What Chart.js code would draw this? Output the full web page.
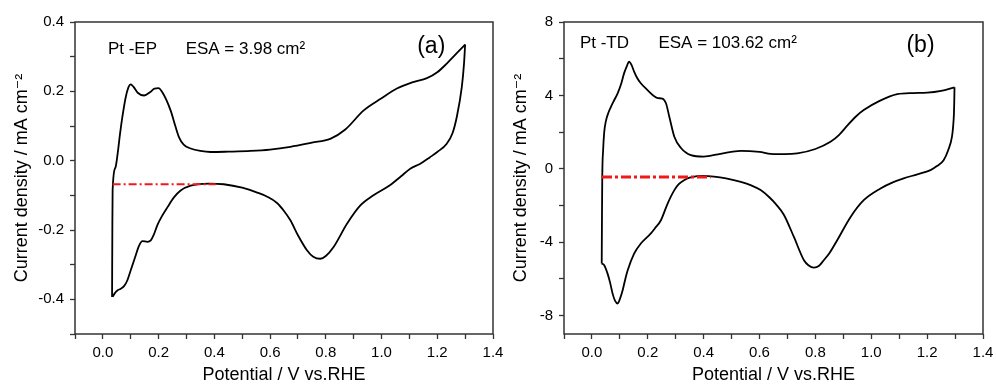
<!DOCTYPE html>
<html><head><meta charset="utf-8">
<script src="https://cdn.jsdelivr.net/npm/chart.js@4.4.0/dist/chart.umd.min.js"></script>
<style>
html,body{margin:0;padding:0;background:#fff;width:996px;height:387px;overflow:hidden;}
#wa{position:absolute;left:0;top:0;width:520px;height:387px;}
#wb{position:absolute;left:498px;top:0;width:498px;height:387px;}
canvas{display:block;}
</style></head><body>
<div id="wa"><canvas id="ca" width="520" height="387"></canvas></div>
<div id="wb"><canvas id="cb" width="498" height="387"></canvas></div>
<script>
// ---------- Panel (a): Pt-EP ----------
const aFwdV = [0.033,0.034,0.035,0.045,0.053,0.062,0.070,0.082,0.092,0.100,0.110,0.125,0.148,0.170,0.185,0.199,0.215,0.243,0.260,0.273,0.290,0.315,0.350,0.387,0.450,0.530,0.600,0.673,0.750,0.816,0.870,0.936,1.000,1.055,1.110,1.163,1.200,1.234,1.270,1.300];
const aFwdI = [-0.393,-0.200,-0.086,-0.020,0.020,0.080,0.126,0.183,0.212,0.220,0.213,0.196,0.188,0.198,0.208,0.209,0.195,0.145,0.100,0.068,0.046,0.035,0.028,0.025,0.026,0.028,0.032,0.040,0.052,0.063,0.090,0.145,0.180,0.208,0.226,0.238,0.255,0.280,0.310,0.335];
const aRevV = [1.300,1.296,1.288,1.270,1.255,1.234,1.200,1.174,1.139,1.103,1.070,1.030,0.971,0.924,0.876,0.828,0.800,0.780,0.755,0.733,0.700,0.673,0.650,0.625,0.590,0.554,0.500,0.434,0.380,0.315,0.279,0.255,0.232,0.212,0.196,0.182,0.172,0.160,0.142,0.130,0.115,0.100,0.088,0.076,0.063,0.053,0.043,0.035];
const aRevI = [0.335,0.280,0.212,0.126,0.080,0.049,0.025,0.010,-0.009,-0.023,-0.045,-0.071,-0.100,-0.129,-0.182,-0.249,-0.275,-0.283,-0.277,-0.259,-0.215,-0.172,-0.145,-0.122,-0.104,-0.092,-0.078,-0.068,-0.066,-0.072,-0.086,-0.106,-0.134,-0.160,-0.185,-0.215,-0.230,-0.234,-0.232,-0.245,-0.280,-0.316,-0.345,-0.362,-0.370,-0.374,-0.382,-0.393];
const aBaseV = [0.035,0.405];
const aBaseI = [-0.068,-0.068];

// ---------- Panel (b): Pt-TD ----------
const bFwdV = [0.035,0.036,0.037,0.040,0.044,0.050,0.060,0.068,0.080,0.092,0.105,0.115,0.125,0.133,0.142,0.151,0.162,0.175,0.199,0.223,0.237,0.252,0.265,0.277,0.295,0.318,0.354,0.400,0.460,0.533,0.600,0.640,0.690,0.735,0.800,0.854,0.885,0.914,0.945,0.973,1.030,1.093,1.150,1.200,1.250,1.298];
const bFwdI = [-5.16,-2.50,-0.44,1.00,2.00,2.60,3.10,3.38,3.75,4.11,4.65,5.20,5.60,5.84,5.65,5.30,4.95,4.66,4.29,3.95,3.85,3.83,3.57,2.84,1.75,1.15,0.75,0.67,0.82,0.98,0.92,0.82,0.80,0.84,1.08,1.47,1.85,2.35,2.85,3.20,3.70,4.07,4.13,4.15,4.25,4.44];
const bRevV = [1.298,1.297,1.296,1.293,1.289,1.275,1.259,1.235,1.212,1.165,1.116,1.075,1.033,0.973,0.926,0.878,0.850,0.830,0.812,0.795,0.775,0.759,0.723,0.687,0.660,0.635,0.604,0.570,0.533,0.480,0.437,0.400,0.378,0.350,0.330,0.310,0.295,0.271,0.247,0.225,0.211,0.175,0.151,0.128,0.118,0.110,0.100,0.092,0.083,0.074,0.065,0.056,0.044,0.035];
const bRevI = [4.44,3.60,3.02,2.30,1.75,1.00,0.47,0.15,-0.07,-0.30,-0.52,-0.75,-1.07,-1.71,-2.62,-3.89,-4.60,-4.98,-5.30,-5.38,-5.25,-4.98,-3.71,-2.50,-1.95,-1.55,-1.16,-0.90,-0.71,-0.52,-0.42,-0.38,-0.40,-0.48,-0.62,-0.85,-1.16,-1.89,-2.80,-3.25,-3.52,-4.07,-4.62,-5.53,-6.10,-6.62,-7.10,-7.34,-7.20,-6.80,-6.20,-5.71,-5.25,-5.16];
const bBaseV = [0.036,0.425];
const bBaseI = [-0.44,-0.44];

// ---------- Ticks ----------
const xMajorTicks = [0.0,0.2,0.4,0.6,0.8,1.0,1.2,1.4];
const xMinorTicks = [-0.1,0.1,0.3,0.5,0.7,0.9,1.1,1.3];
const aYMajorTicks = [-0.4,-0.2,0.0,0.2,0.4];
const aYMinorTicks = [-0.5,-0.3,-0.1,0.1,0.3];
const bYMajorTicks = [-8,-4,0,4,8];
const bYMinorTicks = [-6,-2,2,6];

// ---------- Texts ----------
const xTitle = 'Potential / V vs.RHE';
const yTitle = 'Current density / mA cm\u207B\u00B2';
const aLabels = ['Pt -EP', 'ESA = 3.98 cm\u00B2', '(a)'];
const bLabels = ['Pt -TD', 'ESA = 103.62 cm\u00B2', '(b)'];

const FONT = "'Liberation Sans', Arial, 'DejaVu Sans', sans-serif";

function pts(xs, ys){ return xs.map((x,i)=>({x:x, y:ys[i]})); }
function isIn(v, arr){ return arr.some(a=>Math.abs(a-v)<1e-6); }

function makePanel(canvasId, cfg){
  const boxPlugin = {
    id: 'boxAndText',
    afterDraw(chart){
      const ctx = chart.ctx, ca = chart.chartArea;
      const xs = chart.scales.x, ys = chart.scales.y;
      ctx.save();
      ctx.strokeStyle = '#333';
      ctx.lineWidth = 1.5;
      ctx.strokeRect(ca.left, ca.top, ca.right-ca.left, ca.bottom-ca.top);
      ctx.fillStyle = '#000';
      ctx.textBaseline = 'alphabetic';
      ctx.textAlign = 'left';
      cfg.texts.forEach(t=>{
        ctx.font = t.size + 'px ' + FONT;
        ctx.fillText(t.text, xs.getPixelForValue(t.x), ys.getPixelForValue(t.y));
      });
      ctx.restore();
    }
  };
  return new Chart(document.getElementById(canvasId), {
    type: 'scatter',
    data: {
      datasets: [
        {data: pts(cfg.baseV, cfg.baseI), showLine: true, borderColor: 'rgb(240,25,25)', borderWidth: cfg.redWidth, borderDash: cfg.redDash, pointRadius: 0, tension: 0},
        {data: pts(cfg.fwdV, cfg.fwdI), showLine: true, borderColor: '#000', borderWidth: 1.8, pointRadius: 0, cubicInterpolationMode: 'monotone'},
        {data: pts(cfg.revV, cfg.revI), showLine: true, borderColor: '#000', borderWidth: 1.8, pointRadius: 0, cubicInterpolationMode: 'monotone'}
      ]
    },
    options: {
      responsive: false,
      animation: false,
      devicePixelRatio: 1,
      layout: {padding: {left: 0, right: cfg.padRight, top: 22, bottom: 0}},
      plugins: {legend: {display: false}, tooltip: {enabled: false}},
      scales: {
        x: {
          type: 'linear', min: -0.1, max: 1.4,
          afterBuildTicks(s){ s.ticks = xMajorTicks.concat(xMinorTicks).sort((a,b)=>a-b).map(v=>({value:v})); },
          afterFit(s){ s.height = 53; s.paddingLeft = 0; s.paddingRight = 0; },
          ticks: {autoSkip: false, maxRotation: 0, padding: 5, color: '#000', font: {family: FONT, size: 15},
            callback(v){ return isIn(v, xMajorTicks) ? v.toFixed(1) : ''; }},
          grid: {display: true, drawOnChartArea: false, drawTicks: true, tickLength: 5, tickColor: '#333', tickWidth: 1.3},
          border: {display: false},
          title: {display: true, text: xTitle, color: '#000', font: {family: FONT, size: 18}, padding: {top: 0, bottom: 1}}
        },
        y: {
          type: 'linear', min: cfg.yMin, max: cfg.yMax,
          afterBuildTicks(s){ s.ticks = cfg.yMajor.concat(cfg.yMinor).sort((a,b)=>a-b).map(v=>({value:v})); },
          afterFit(s){ s.width = cfg.yWidth; s.paddingTop = 0; s.paddingBottom = 0; },
          ticks: {autoSkip: false, padding: 6, color: '#000', font: {family: FONT, size: 15},
            callback(v){ return isIn(v, cfg.yMajor) ? cfg.fmt(v) : ''; }},
          grid: {display: true, drawOnChartArea: false, drawTicks: true, tickLength: 5, tickColor: '#333', tickWidth: 1.3},
          border: {display: false},
          title: {display: true, text: yTitle, color: '#000', font: {family: FONT, size: 18}, padding: {top: cfg.yTitlePad, bottom: 0}}
        }
      }
    },
    plugins: [boxPlugin]
  });
}

makePanel('ca', {
  fwdV: aFwdV, fwdI: aFwdI, revV: aRevV, revI: aRevI, baseV: aBaseV, baseI: aBaseI,
  redWidth: 2, redDash: [8,3,2,3],
  yMin: -0.5, yMax: 0.4, yMajor: aYMajorTicks, yMinor: aYMinorTicks,
  fmt: v => (Math.abs(v)<1e-9 ? 0 : v).toFixed(1),
  yWidth: 75, yTitlePad: 11, padRight: 27,
  texts: [
    {text: aLabels[0], x: 0.018, y: 0.307, size: 17},
    {text: aLabels[1], x: 0.297, y: 0.307, size: 17},
    {text: aLabels[2], x: 1.128, y: 0.312, size: 23}
  ]
});

makePanel('cb', {
  fwdV: bFwdV, fwdI: bFwdI, revV: bRevV, revI: bRevI, baseV: bBaseV, baseI: bBaseI,
  redWidth: 3, redDash: [10,3,3,3],
  yMin: -9, yMax: 8, yMajor: bYMajorTicks, yMinor: bYMinorTicks,
  fmt: v => String(Math.round(v)),
  yWidth: 66, yTitlePad: 12, padRight: 13,
  texts: [
    {text: bLabels[0], x: -0.043, y: 6.58, size: 17},
    {text: bLabels[1], x: 0.238, y: 6.58, size: 17},
    {text: bLabels[2], x: 1.126, y: 6.37, size: 23}
  ]
});
</script>
</body></html>
